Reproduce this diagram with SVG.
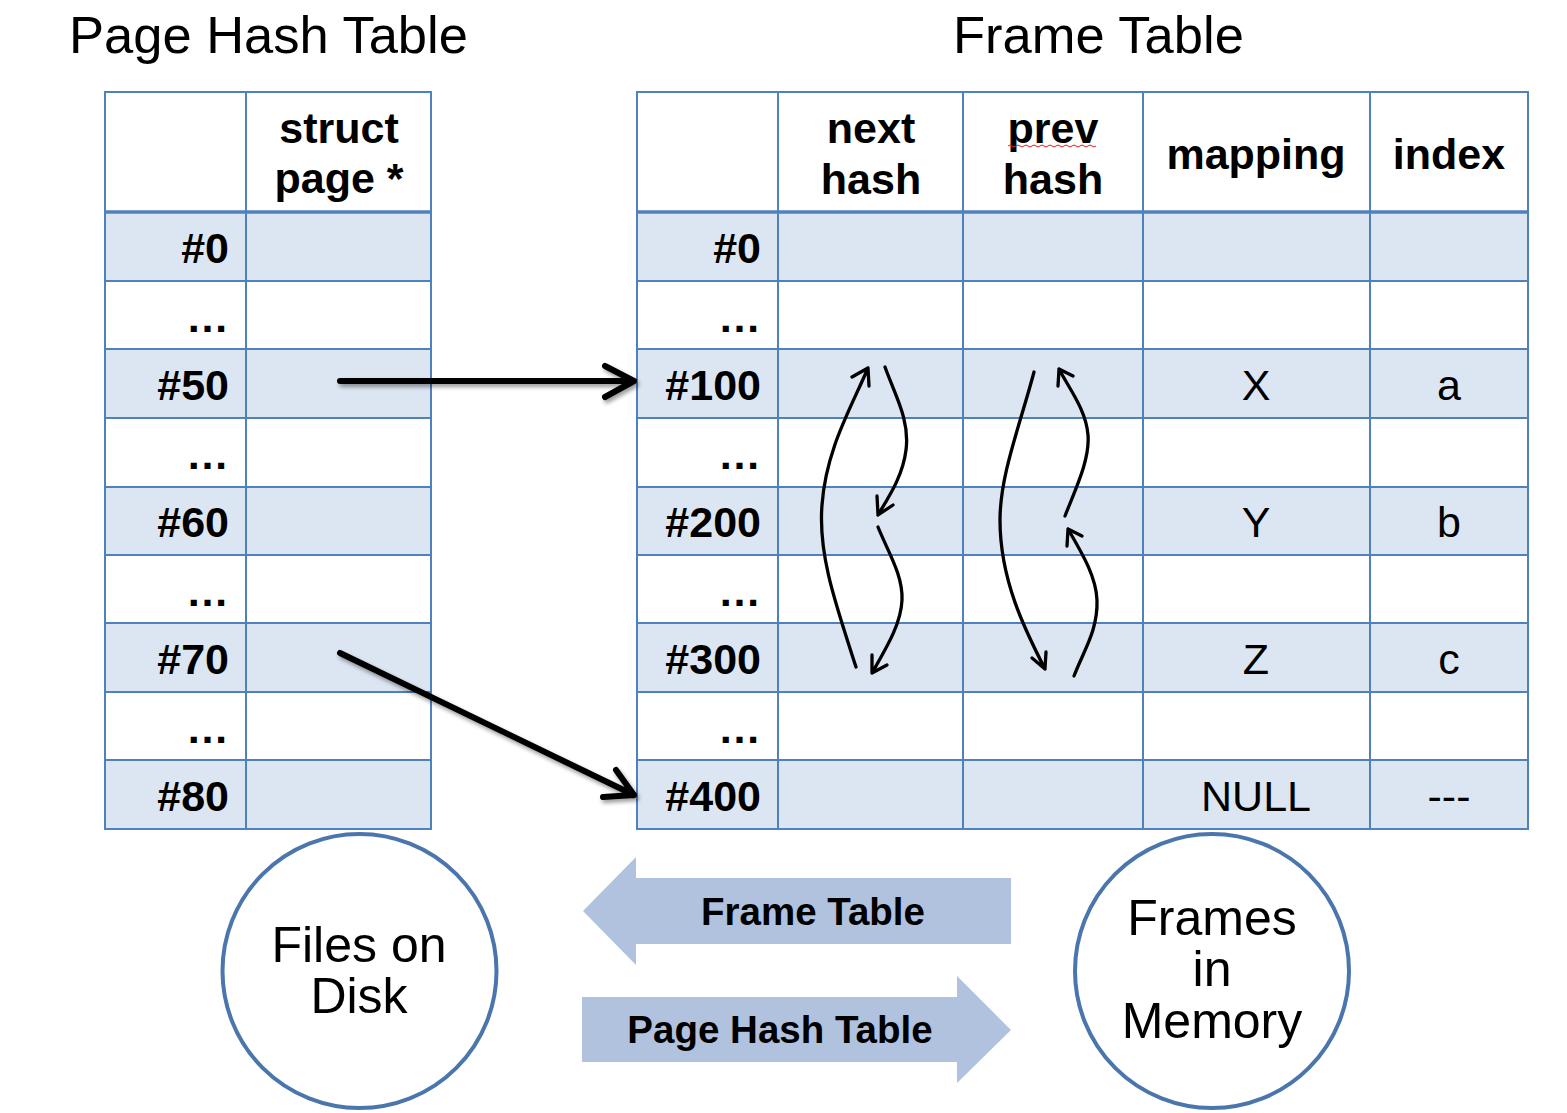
<svg xmlns="http://www.w3.org/2000/svg" width="1567" height="1113" viewBox="0 0 1567 1113">
<defs>
<style>
.t{font-family:"Liberation Sans",Arial,sans-serif;fill:#000}
.title{font-size:52.5px}
.hb{font-size:43px;font-weight:bold}
.v{font-size:43px}
.c{font-size:50px}
.ab{font-size:38.5px;font-weight:bold}
.grid{stroke:#4F81BD;stroke-width:2;fill:none}
.thick{stroke:#4F81BD;stroke-width:3.5}
.sh{fill:#DCE6F2}
.conn{stroke:#000;stroke-width:6;fill:none;stroke-linecap:round;stroke-linejoin:round}
.cur{stroke:#000;stroke-width:3.3;fill:none;stroke-linecap:round;stroke-linejoin:round}
.big{fill:#B0C2DE}
.circ{fill:#fff;stroke:#4A76AD;stroke-width:4}
</style>
<filter id="shd" x="-10%" y="-10%" width="130%" height="130%">
<feGaussianBlur in="SourceAlpha" stdDeviation="2"/>
<feOffset dx="2" dy="3" result="o"/>
<feComponentTransfer><feFuncA type="linear" slope="0.4"/></feComponentTransfer>
<feMerge><feMergeNode/><feMergeNode in="SourceGraphic"/></feMerge>
</filter>
</defs>
<rect width="1567" height="1113" fill="#fff"/>

<text class="t title" x="69" y="53">Page Hash Table</text>
<text class="t title" x="953" y="53">Frame Table</text>

<g id="page-hash-table">
<rect class="sh" x="105" y="212" width="326" height="69"/>
<rect class="sh" x="105" y="349" width="326" height="69"/>
<rect class="sh" x="105" y="487" width="326" height="68"/>
<rect class="sh" x="105" y="623" width="326" height="69"/>
<rect class="sh" x="105" y="760" width="326" height="69"/>
<rect class="grid" x="105" y="92" width="326" height="737"/>
<path class="grid" d="M246 92V829M105 281H431M105 349H431M105 418H431M105 487H431M105 555H431M105 623H431M105 692H431M105 760H431"/>
<path class="thick" d="M105 212H431"/>
<text class="t hb" x="339" y="143" text-anchor="middle">struct</text>
<text class="t hb" x="339" y="193" text-anchor="middle">page *</text>
<g class="t hb" text-anchor="end">
<text x="229" y="263">#0</text>
<text x="229" y="332">…</text>
<text x="229" y="400">#50</text>
<text x="229" y="469">…</text>
<text x="229" y="537">#60</text>
<text x="229" y="606">…</text>
<text x="229" y="674">#70</text>
<text x="229" y="743">…</text>
<text x="229" y="811">#80</text>
</g>
</g>

<g id="frame-table">
<rect class="sh" x="637" y="212" width="891" height="69"/>
<rect class="sh" x="637" y="349" width="891" height="69"/>
<rect class="sh" x="637" y="487" width="891" height="68"/>
<rect class="sh" x="637" y="623" width="891" height="69"/>
<rect class="sh" x="637" y="760" width="891" height="69"/>
<rect class="grid" x="637" y="92" width="891" height="737"/>
<path class="grid" d="M778 92V829M963 92V829M1143 92V829M1370 92V829M637 281H1528M637 349H1528M637 418H1528M637 487H1528M637 555H1528M637 623H1528M637 692H1528M637 760H1528"/>
<path class="thick" d="M637 212H1528"/>
<g class="t hb" text-anchor="middle">
<text x="871" y="143">next</text>
<text x="871" y="194">hash</text>
<text x="1053" y="143">prev</text>
<text x="1053" y="194">hash</text>
<text x="1256" y="169">mapping</text>
<text x="1449" y="169">index</text>
</g>
<path d="M1008 146q2-2 4 0t4 0 4 0 4 0 4 0 4 0 4 0 4 0 4 0 4 0 4 0 4 0 4 0 4 0 4 0 4 0 4 0 4 0 4 0 4 0 4 0 4 0" stroke="#E02020" stroke-width="1" fill="none"/>
<g class="t hb" text-anchor="end">
<text x="761" y="263">#0</text>
<text x="761" y="332">…</text>
<text x="761" y="400">#100</text>
<text x="761" y="469">…</text>
<text x="761" y="537">#200</text>
<text x="761" y="606">…</text>
<text x="761" y="674">#300</text>
<text x="761" y="743">…</text>
<text x="761" y="811">#400</text>
</g>
<g class="t v" text-anchor="middle">
<text x="1256" y="400">X</text>
<text x="1449" y="400">a</text>
<text x="1256" y="537">Y</text>
<text x="1449" y="537">b</text>
<text x="1256" y="674">Z</text>
<text x="1449" y="674">c</text>
<text x="1256" y="811">NULL</text>
<text x="1449" y="811">---</text>
</g>
</g>

<g id="files-on-disk">
<circle class="circ" cx="359.5" cy="971" r="137"/>
<text class="t c" x="359" y="962" text-anchor="middle">Files on</text>
<text class="t c" x="359" y="1013" text-anchor="middle">Disk</text>
</g>

<g id="frames-in-memory">
<circle class="circ" cx="1212" cy="971" r="137"/>
<text class="t c" x="1212" y="935" text-anchor="middle">Frames</text>
<text class="t c" x="1212" y="986" text-anchor="middle">in</text>
<text class="t c" x="1212" y="1038" text-anchor="middle">Memory</text>
</g>

<g id="frame-table-arrow">
<polygon class="big" points="583,911 636,857 636,878 1011,878 1011,944 636,944 636,965"/>
<text class="t ab" x="813" y="925" text-anchor="middle">Frame Table</text>
</g>

<g id="page-hash-table-arrow">
<polygon class="big" points="582,997 957,997 957,976 1011,1030 957,1083 957,1062 582,1062"/>
<text class="t ab" x="780" y="1043" text-anchor="middle">Page Hash Table</text>
</g>

<g id="connectors">
<g filter="url(#shd)">
<path class="conn" d="M340 381H634M605 366L634 381L605 397"/>
<path class="conn" d="M340 653L634 795M616 770L634 795L603 797"/>
</g>
<path class="cur" d="M856 667C836 605 818 555 822 505C826 450 850 410 868 368M852 377L868 368L869 386"/>
<path class="cur" d="M885 367C895 395 910 420 906 450C903 475 890 495 878 515M877 496L878 515L893 505"/>
<path class="cur" d="M878 527C888 552 903 575 902 600C901 625 885 650 872 673M872 655L872 673L887 665"/>
<path class="cur" d="M1034 372C1020 425 1000 475 1000 520C1000 580 1025 630 1045 669M1032 658L1045 669L1046 652"/>
<path class="cur" d="M1065 516C1075 490 1090 460 1088 435C1086 410 1070 390 1059 369M1058 386L1059 369L1073 376"/>
<path class="cur" d="M1074 676C1084 650 1098 630 1097 600C1096 575 1080 550 1068 529M1067 546L1068 529L1082 536"/>
</g>
</svg>
